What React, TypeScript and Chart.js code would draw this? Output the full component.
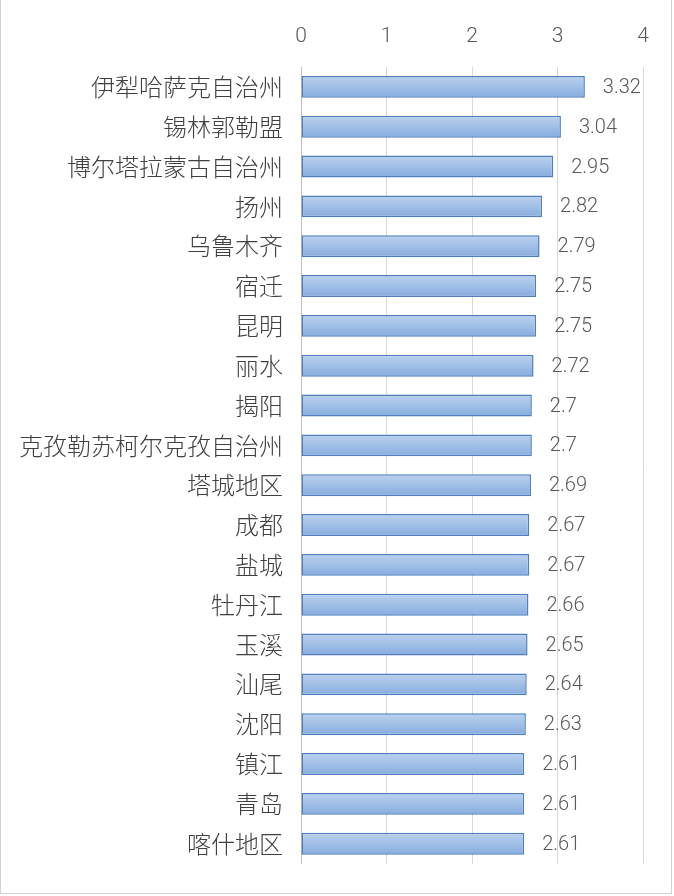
import React, { useEffect, useRef } from "react";
import { Chart, registerables } from "chart.js";

Chart.register(...registerables);

const categories = [
  "伊犁哈萨克自治州",
  "锡林郭勒盟",
  "博尔塔拉蒙古自治州",
  "扬州",
  "乌鲁木齐",
  "宿迁",
  "昆明",
  "丽水",
  "揭阳",
  "克孜勒苏柯尔克孜自治州",
  "塔城地区",
  "成都",
  "盐城",
  "牡丹江",
  "玉溪",
  "汕尾",
  "沈阳",
  "镇江",
  "青岛",
  "喀什地区",
];

const values = [3.32, 3.04, 2.95, 2.82, 2.79, 2.75, 2.75, 2.72, 2.7, 2.7, 2.69, 2.67, 2.67, 2.66, 2.65, 2.64, 2.63, 2.61, 2.61, 2.61];

const xTicks = [0, 1, 2, 3, 4];

const CJK = "'Noto Sans CJK SC', 'Noto Sans', sans-serif";
const NUM = "Roboto, 'Liberation Sans', sans-serif";

const valueLabelPlugin = {
  id: "valueLabels",
  afterDatasetsDraw(chart: any) {
    const ctx = chart.ctx;
    const meta = chart.getDatasetMeta(0);
    ctx.save();
    ctx.font = `300 20px ${NUM}`;
    ctx.fillStyle = "#595959";
    ctx.textAlign = "left";
    ctx.textBaseline = "middle";
    meta.data.forEach((bar: any, i: number) => {
      ctx.fillText(String(values[i]), bar.x + 18, bar.y + 1);
    });
    ctx.restore();
  },
};

export default function App() {
  const ref = useRef<HTMLCanvasElement | null>(null);

  useEffect(() => {
    document.body.style.margin = "0";
    const canvas = ref.current!;
    const chart = new Chart(canvas, {
      type: "bar",
      data: {
        labels: categories,
        datasets: [
          {
            data: values,
            borderColor: "#4f7fbf",
            borderWidth: 1.5,
            borderSkipped: false,
            barPercentage: 0.55,
            categoryPercentage: 1,
            backgroundColor: (c: any) => {
              const ch = c.chart;
              const ys = ch.scales && ch.scales.y;
              if (!ys || c.dataIndex === undefined) return "#a3bfe6";
              const yc = ys.getPixelForValue(c.dataIndex);
              if (!isFinite(yc)) return "#a3bfe6";
              const g = ch.ctx.createLinearGradient(0, yc - 11, 0, yc + 11);
              g.addColorStop(0, "#bcd2ef");
              g.addColorStop(1, "#86acde");
              return g;
            },
          },
        ],
      },
      options: {
        indexAxis: "y",
        animation: false,
        responsive: false,
        maintainAspectRatio: false,
        layout: { padding: { top: 15, right: 31, bottom: 26, left: 0 } },
        plugins: {
          legend: { display: false },
          tooltip: { enabled: false },
        },
        scales: {
          x: {
            position: "top",
            min: 0,
            max: 4,
            afterBuildTicks: (s: any) => {
              s.ticks = xTicks.map((v) => ({ value: v }));
            },
            afterFit: (s: any) => {
              s.height = 52;
            },
            grid: { color: "#d9d9d9", lineWidth: 1, drawTicks: false },
            border: { display: false },
            ticks: {
              padding: 18,
              color: "#595959",
              font: { family: NUM, size: 21, weight: "300" },
            },
          },
          y: {
            afterFit: (s: any) => {
              s.width = 301;
            },
            grid: { display: false, drawTicks: false },
            border: { display: true, color: "#bfbfbf", width: 1 },
            ticks: {
              padding: 18,
              color: "#404040",
              font: { family: CJK, size: 24, weight: "300" },
            },
          },
        },
      },
      plugins: [valueLabelPlugin],
    } as any);
    return () => chart.destroy();
  }, []);

  return (
    <div style={{ position: "absolute", left: 0, top: 0, width: 674, height: 896, background: "#fff" }}>
      <canvas ref={ref} width={674} height={896} style={{ display: "block" }} />
      <div
        style={{
          position: "absolute",
          left: 0,
          top: -2,
          width: 672,
          height: 896,
          boxSizing: "border-box",
          border: "1px solid #d4d4d4",
          pointerEvents: "none",
        }}
      />
    </div>
  );
}
